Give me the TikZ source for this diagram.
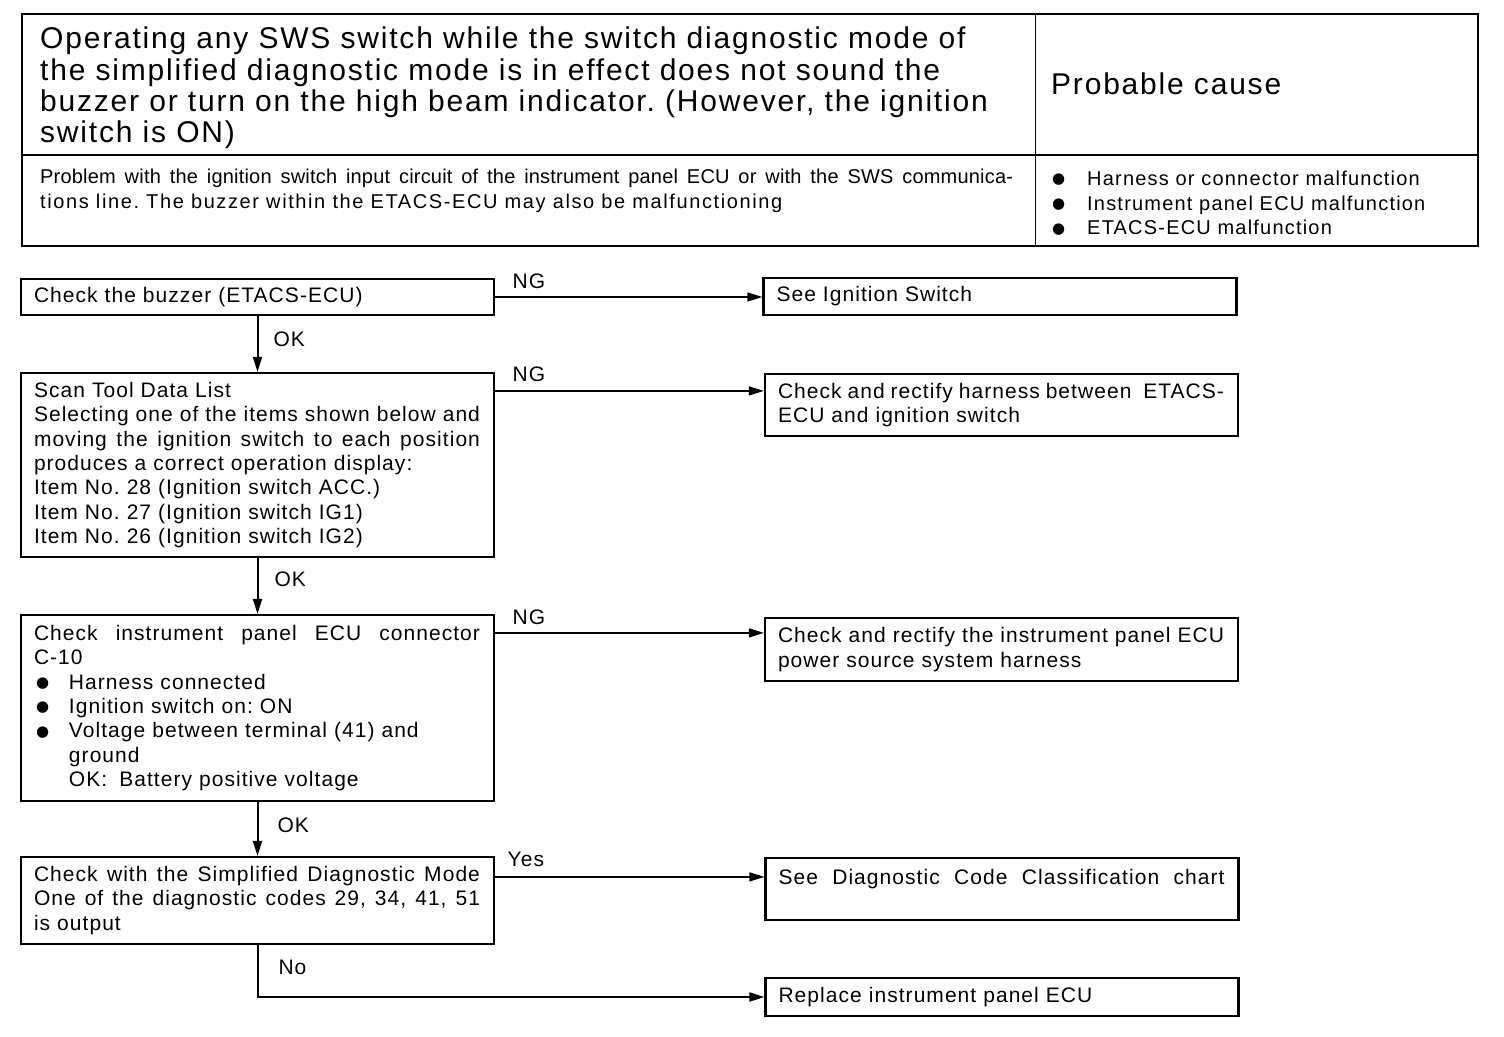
\documentclass[tikz,border=0pt]{standalone}
\usepackage{fontspec}
\usetikzlibrary{arrows.meta}
\setmainfont{Liberation Sans}
\frenchspacing
\newfontfamily\headfont[LetterSpace=6]{Liberation Sans}
\newfontfamily\tabfont[LetterSpace=6]{Liberation Sans}
\newfontfamily\tabwide[LetterSpace=8]{Liberation Sans}
\newfontfamily\tabtight[LetterSpace=1]{Liberation Sans}
\newfontfamily\flowfont[LetterSpace=5]{Liberation Sans}
\newfontfamily\symfont{DejaVu Sans}
\newcommand\hdf{\headfont\fontsize{30}{31.3}\selectfont}
\newcommand\tbf{\tabfont\fontsize{20}{24.7}\selectfont}
\newcommand\flw{\flowfont\fontsize{21}{24.3}\selectfont}
\newcommand\bul{\raisebox{1.5pt}{\symfont\fontsize{15}{15}\selectfont ●}}
\newcommand\jl[2]{{\spaceskip=0pt\xspaceskip=0pt\makebox[#1pt][s]{#2}}}
\begin{document}
\begin{tikzpicture}[x=1pt,y=1pt,
  fbox/.style={draw, line width=2.2pt, inner xsep=13pt, inner ysep=3pt,
    text width=447pt, align=left, font=\flw},
  harr/.style={-{Triangle[length=15pt,width=9pt]}, line width=1.2pt},
  varr/.style={-{Triangle[length=15pt,width=9pt]}, line width=2pt},
  lbl/.style={font=\flw, inner sep=0pt}]
\useasboundingbox (0,0) rectangle (1504,-1036);
% ---- table ----
\draw[line width=2pt] (22,-14) rectangle (1478,-246);
\draw[line width=1.4pt] (22,-155) -- (1478,-155);
\draw[line width=1pt] (1035,-14) -- (1035,-246);
\node[anchor=west, inner sep=0pt, align=left, font=\hdf] (hd) at (40,-88)
  {Operating any SWS switch while the switch diagnostic mode of\\
   the simplified diagnostic mode is in effect does not sound the\\
   buzzer or turn on the high beam indicator. (However, the ignition\\
   switch is ON)};
\node[anchor=west, inner sep=0pt, font=\hdf] (pc) at (1051,-84) {Probable cause};
\node[anchor=west, inner sep=0pt, align=left, font=\tbf] (pb) at (40,-191)
  {{\tabtight\jl{973}{Problem with the ignition switch input circuit of the instrument panel ECU or with the SWS communica-}}\\
   {\tabwide tions line. The buzzer within the ETACS-ECU may also be malfunctioning}};
\node[anchor=west, inner sep=0pt, align=left, font=\tbf] (cs) at (1052,-203)
  {\makebox[35pt][l]{\bul}Harness or connector malfunction\\
   \makebox[35pt][l]{\bul}Instrument panel ECU malfunction\\
   \makebox[35pt][l]{\bul}ETACS-ECU malfunction};
% ---- flow boxes ----
\node[fbox, minimum height=36pt] (b1) at (257.5,-297) {Check the buzzer (ETACS-ECU)};
\node[fbox, minimum height=184pt] (b2) at (257.5,-465)
  {Scan Tool Data List\\
   \jl{446}{Selecting one of the items shown below and}\\
   \jl{446}{moving the ignition switch to each position}\\
   produces a correct operation display:\\
   Item No. 28 (Ignition switch ACC.)\\
   Item No. 27 (Ignition switch IG1)\\
   Item No. 26 (Ignition switch IG2)};
\node[fbox, minimum height=186pt] (b3) at (257.5,-708)
  {\jl{446}{Check instrument panel ECU connector}\\
   C-10\\
   \makebox[35pt][l]{\hspace{2pt}\bul}Harness connected\\
   \makebox[35pt][l]{\hspace{2pt}\bul}Ignition switch on: ON\\
   \makebox[35pt][l]{\hspace{2pt}\bul}Voltage between terminal (41) and\\
   \hspace*{35pt}ground\\
   \hspace*{35pt}OK:\hspace{12pt}Battery positive voltage};
\node[fbox, minimum height=87pt] (b4) at (257.5,-900.5)
  {\jl{446}{Check with the Simplified Diagnostic Mode}\\
   \jl{446}{One of the diagnostic codes 29, 34, 41, 51}\\
   is output};
\node[fbox, minimum height=37pt] (r1) at (1000,-296.5) {See Ignition Switch};
\node[fbox, minimum height=62pt] (r2) at (1001.5,-405)
  {\jl{446}{Check and rectify harness between\ \ ETACS-}\\
   ECU and ignition switch};
\node[fbox, minimum height=63pt] (r3) at (1001.5,-649.5)
  {\jl{446}{Check and rectify the instrument panel ECU}\\
   power source system harness};
\node[fbox, minimum height=62pt] (r4) at (1002,-889)
  {\jl{446}{See Diagnostic Code Classification chart}\\
   \mbox{}};
\node[fbox, minimum height=38pt] (r5) at (1002,-997) {Replace instrument panel ECU};
% ---- connectors ----
\draw[harr] (b1.east) -- node[lbl, pos=0, anchor=base west, xshift=17pt, yshift=9pt] {NG} (b1.east -| r1.west);
\draw[harr] ([yshift=-19pt]b2.north east) -- node[lbl, pos=0, anchor=base west, xshift=17pt, yshift=9pt] {NG} ([yshift=-19pt]b2.north east -| r2.west);
\draw[harr] ([yshift=-19pt]b3.north east) -- node[lbl, pos=0, anchor=base west, xshift=17pt, yshift=8pt] {NG} ([yshift=-19pt]b3.north east -| r3.west);
\draw[harr] ([yshift=-21pt]b4.north east) -- node[lbl, pos=0, anchor=base west, xshift=12pt, yshift=10pt] {Yes} ([yshift=-21pt]b4.north east -| r4.west);
\draw[varr] (b1.south) -- node[lbl, anchor=west, xshift=15pt, yshift=5pt] {OK} (b2.north);
\draw[varr] (b2.south) -- node[lbl, anchor=west, xshift=16pt, yshift=7pt] {OK} (b3.north);
\draw[varr] (b3.south) -- node[lbl, anchor=west, xshift=19pt, yshift=4pt] {OK} (b4.north);
\draw[harr, line width=2pt] (b4.south) |- node[lbl, pos=0.25, anchor=west, xshift=20pt, yshift=4pt] {No} (r5.west);
\end{tikzpicture}
\end{document}
